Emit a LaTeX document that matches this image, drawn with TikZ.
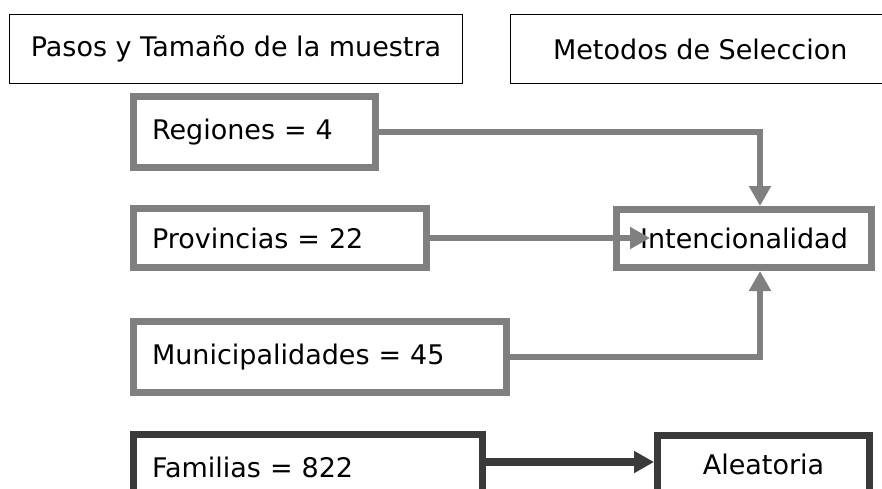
\documentclass[tikz,border=0pt]{standalone}
\usepackage{fontspec}
\setmainfont{DejaVu Sans}
\usetikzlibrary{arrows.meta}
\definecolor{boxgray}{HTML}{808080}
\definecolor{boxdark}{HTML}{3A3A3A}
\tikzset{
  hdrbox/.style={draw=black, line width=1.3pt, rectangle, inner sep=0pt, align=center},
  graybox/.style={draw=boxgray, line width=7pt, rectangle, inner ysep=0pt, inner xsep=18.5pt, align=left},
  darkbox/.style={draw=boxdark, line width=7pt, rectangle, inner sep=0pt, align=center},
  grayarrow/.style={draw=boxgray, line width=6.7pt, -{Triangle[length=20pt,width=21pt]}},
  darkarrow/.style={draw=boxdark, line width=8pt, -{Triangle[length=20pt,width=21pt]}},
}
\begin{document}
\begin{tikzpicture}[x=1pt,y=-1pt,font=\fontsize{27pt}{32pt}\selectfont]
\useasboundingbox (0,0) rectangle (882,488);
\clip (0,0) rectangle (882,488);
\fill[white] (0,0) rectangle (882,488);
% headers
\node[hdrbox, minimum width=453pt, minimum height=69pt] (pasos) at (236,49) {Pasos y Tamaño de la muestra};
\node[hdrbox, minimum width=379.5pt, minimum height=69pt] (metodos) at (700.25,49) {Metodos de Seleccion};
% gray boxes
\node[graybox, text width=205pt, minimum height=71pt] (reg) at (254.5,132) {Regiones = 4};
\node[graybox, text width=256pt, minimum height=59pt] (prov) at (280,238) {Provincias = 22};
\node[graybox, text width=336pt, minimum height=71pt] (mun) at (320,357) {Municipalidades = 45};
\node[graybox, inner sep=0pt, align=center, minimum width=255pt, minimum height=58pt] (int) at (744,238.5) {Intencionalidad};
% dark boxes
\node[darkbox, inner xsep=18.5pt, align=left, text width=312pt, minimum height=65pt] (fam) at (308,467) {Familias = 822};
\node[darkbox, minimum width=212pt, minimum height=57pt] (ale) at (763.5,464) {Aleatoria};
% connectors
\draw[grayarrow] (reg.east) -| ([xshift=16pt]int.north);
\draw[grayarrow] (prov.east) -- ([xshift=37pt]int.west |- prov.east);
\draw[grayarrow] (mun.east) -| ([xshift=16pt]int.south);
\draw[darkarrow] ([yshift=5pt]fam.east) -- ([yshift=5pt]fam.east -| ale.west);
\end{tikzpicture}
\end{document}
